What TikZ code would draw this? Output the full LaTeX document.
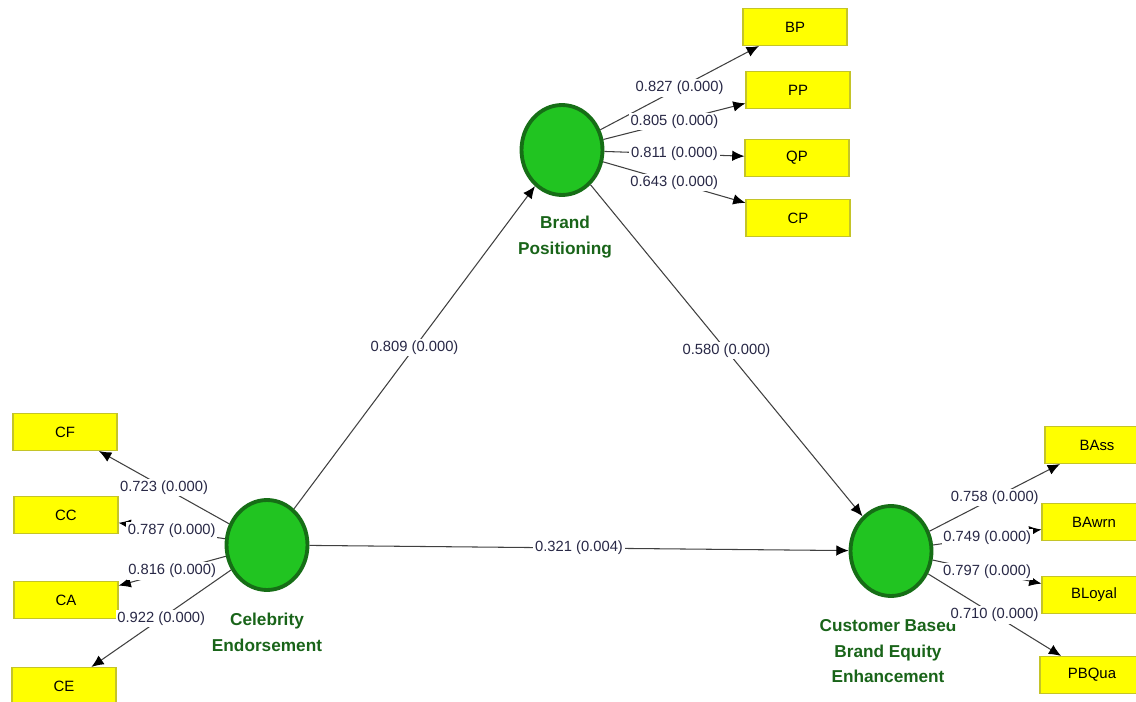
\documentclass[tikz,border=0pt]{standalone}
\usepackage{fontspec}
\setmainfont{Liberation Sans}
\usetikzlibrary{shapes.geometric,arrows.meta}
\definecolor{lvfill}{RGB}{33,196,33}
\definecolor{lvdraw}{RGB}{22,110,22}
\definecolor{lvtext}{RGB}{25,100,25}
\definecolor{mvfill}{RGB}{255,255,0}
\definecolor{mvdraw}{RGB}{196,196,40}
\definecolor{coef}{RGB}{40,40,70}

\begin{document}
\begin{tikzpicture}[x=0.02cm,y=-0.02cm]
        \tikzstyle{latent}=[ellipse, fill=lvfill, draw=lvdraw, line width=2.2pt, minimum width=1.62cm, minimum height=1.8cm]
        \tikzstyle{indicator}=[rectangle, fill=mvfill, draw=mvdraw, line width=0.6pt, minimum width=2.08cm, minimum height=0.74cm, font=\fontsize{8.5}{10}\selectfont]
        \tikzstyle{lvname}=[text=lvtext, font=\bfseries\fontsize{9.8}{14.7}\selectfont, align=center]
        \tikzstyle{coefficient}=[fill=white, inner sep=1pt, text=coef, font=\fontsize{8.4}{10}\selectfont]
        \useasboundingbox (0,0) rectangle (1136,702);
        % latent variables
        \node[latent] (celeb)    at (267, 545) {};
        \node[latent] (brandpos) at (562, 150) {};
        \node[latent] (cbbe)     at (891, 551) {};
        \node[lvname] (celebname)    at (267, 632) {Celebrity\\Endorsement};
        \node[lvname] (brandposname) at (565, 237) {Brand\\Positioning};
        \node[lvname] (cbbename)     at (888, 651) {Customer Based\\Brand Equity\\Enhancement};
        % indicators
        \node[indicator] (bp)     at (795,  27) {BP};
        \node[indicator] (pp)     at (798,  90) {PP};
        \node[indicator] (qp)     at (797, 158) {QP};
        \node[indicator] (cp)     at (798, 218) {CP};
        \node[indicator] (cf)     at (65,  432) {CF};
        \node[indicator] (cc)     at (66,  515) {CC};
        \node[indicator] (ca)     at (66,  600) {CA};
        \node[indicator] (ce)     at (64,  686) {CE};
        \node[indicator] (bass)   at (1097, 445) {BAss};
        \node[indicator] (bawrn)  at (1094, 522) {BAwrn};
        \node[indicator] (bloyal) at (1094, 595) {BLoyal};
        \node[indicator] (pbqua)  at (1092, 675) {PBQua};
        \tikzstyle{every path}=[draw=black!75, line width=0.6pt, -{Latex[length=7pt,width=6pt,color=black]}]
        % inner model
        \draw (celeb) -- node[coefficient] {0.809 (0.000)} (brandpos);
        \draw (brandpos) -- node[coefficient] {0.580 (0.000)} (cbbe);
        \draw (celeb) -- node[coefficient] {0.321 (0.004)} (cbbe);
        % outer model
        \draw (brandpos) -- node[coefficient] {0.827 (0.000)} (bp);
        \draw (brandpos) -- node[coefficient] {0.805 (0.000)} (pp);
        \draw (brandpos) -- node[coefficient] {0.811 (0.000)} (qp);
        \draw (brandpos) -- node[coefficient] {0.643 (0.000)} (cp);
        \draw (celeb) -- node[coefficient] {0.723 (0.000)} (cf);
        \draw (celeb) -- node[coefficient] {0.787 (0.000)} (cc);
        \draw (celeb) -- node[coefficient] {0.816 (0.000)} (ca);
        \draw (celeb) -- node[coefficient] {0.922 (0.000)} (ce);
        \draw (cbbe) -- node[coefficient] {0.758 (0.000)} (bass);
        \draw (cbbe) -- node[coefficient] {0.749 (0.000)} (bawrn);
        \draw (cbbe) -- node[coefficient] {0.797 (0.000)} (bloyal);
        \draw (cbbe) -- node[coefficient] {0.710 (0.000)} (pbqua);
    \end{tikzpicture}
\end{document}
